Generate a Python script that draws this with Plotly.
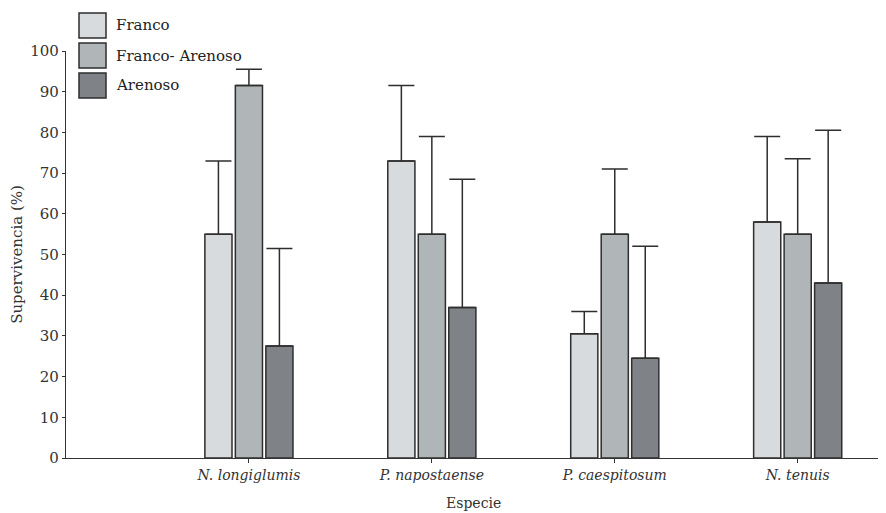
import plotly.graph_objects as go

species = ["N. longiglumis", "P. napostaense", "P. caespitosum", "N. tenuis"]
series_names = ["Franco", "Franco- Arenoso", "Arenoso"]
franco = [55, 73, 30.5, 58]
franco_err = [18, 18.5, 5.5, 21]
franco_arenoso = [91.5, 55, 55, 55]
franco_arenoso_err = [4, 24, 16, 18.5]
arenoso = [27.5, 37, 24.5, 43]
arenoso_err = [24, 31.5, 27.5, 37.5]
y_ticks = [0, 10, 20, 30, 40, 50, 60, 70, 80, 90, 100]

colors = ["#d8dbde", "#b0b5b8", "#7f8387"]
edge = "#2e2e2e"
font_family = "DejaVu Serif, Liberation Serif, serif"

xpos = list(range(1, len(species) + 1))
values = [franco, franco_arenoso, arenoso]
errors = [franco_err, franco_arenoso_err, arenoso_err]

# page body has an 8px offset; plot area spans x 66..880, y 51..458 on screen
OFF = 8
L, T, PW, PH = 66 - OFF, 51 - OFF, 814, 407

fig = go.Figure()
for name, vals, errs, col in zip(series_names, values, errors, colors):
    fig.add_trace(go.Bar(
        x=xpos, y=vals, name=name,
        marker=dict(color=col, line=dict(color=edge, width=1.5)),
        error_y=dict(type="data", symmetric=False, array=errs,
                     arrayminus=[0] * len(errs), color=edge,
                     thickness=1.5, width=13),
        showlegend=False,
    ))

# legend drawn as boxes + labels in paper coordinates
box_w, box_h = 27, 25
x0 = 79
for i, (name, col) in enumerate(zip(series_names, colors)):
    top = 13 + i * 30
    fig.add_shape(type="rect", xref="paper", yref="paper",
                  x0=(x0 - 66) / PW, x1=(x0 + box_w - 66) / PW,
                  y0=(458 - top) / PH, y1=(458 - top - box_h) / PH,
                  fillcolor=col, line=dict(color=edge, width=1.5))
    fig.add_annotation(xref="paper", yref="paper",
                       x=(114 - 66) / PW, y=(458 - top - box_h / 2) / PH,
                       text=name, showarrow=False, xanchor="left", yanchor="middle",
                       font=dict(family=font_family, size=15, color="#222"))

# x axis title as annotation placed below the tick labels
fig.add_annotation(xref="paper", yref="paper", x=(473 - 66) / PW, y=-(503 - 458) / PH,
                   text="Especie", showarrow=False, xanchor="center", yanchor="middle",
                   font=dict(family=font_family, size=14, color="#333"))

fig.update_layout(
    width=L + PW + 6, height=T + PH + 55,
    margin=dict(l=L, r=6, t=T, b=55),
    plot_bgcolor="white", paper_bgcolor="white",
    barmode="group", bargap=0.5, bargroupgap=0.11,
    font=dict(family=font_family, size=15, color="#333"),
    xaxis=dict(
        range=[0, 4.45], tickvals=xpos,
        ticktext=["<i>" + s + "</i>" for s in species],
        showline=True, linecolor="#333", linewidth=1.2,
        ticks="outside", ticklen=4, tickcolor="#333",
        showgrid=False, zeroline=False, automargin=False,
        tickfont=dict(size=14, color="#333"),
    ),
    yaxis=dict(
        range=[0, 100], tickvals=y_ticks,
        showline=True, linecolor="#333", linewidth=1.2,
        ticks="outside", ticklen=3, tickcolor="#333",
        showgrid=False, zeroline=False,
        title=dict(text="Supervivencia (%)", standoff=4, font=dict(size=15)),
        tickfont=dict(size=15, color="#333"),
    ),
)

fig.write_html("out.html")
